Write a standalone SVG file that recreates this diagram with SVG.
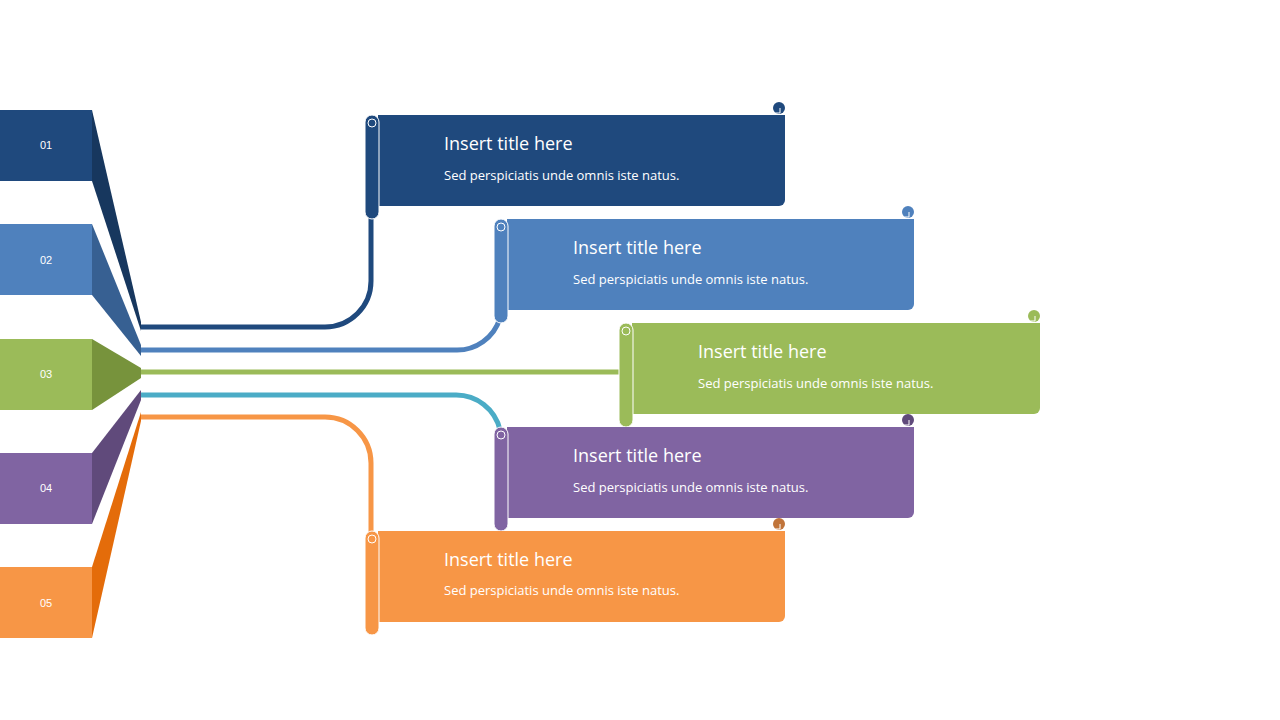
<svg xmlns="http://www.w3.org/2000/svg" width="1280" height="720" viewBox="0 0 1280 720">
<style>
.n{font-family:"Liberation Sans",Arial,sans-serif;font-size:11px;fill:#fff;text-anchor:middle}
.t{font-family:"Open Sans","Liberation Sans",sans-serif;font-size:18px;fill:#fff}
.s{font-family:"Open Sans","Liberation Sans",sans-serif;font-size:13px;fill:#fff}
.c{fill:none;stroke-width:5}
.e{stroke:#fff;stroke-width:1;fill:none}
</style>
<rect width="1280" height="720" fill="#fff"/>
<g id="tabs">
<g id="tab1"><rect x="0" y="110" width="92" height="71" fill="#1F497D"/><polygon points="92,110 141,322 141,331 92,181" fill="#17375E"/><text class="n" x="46" y="149">01</text></g>
<g id="tab2"><rect x="0" y="224" width="92" height="71" fill="#4F81BD"/><polygon points="92,224 141,345 141,356 92,295" fill="#376092"/><text class="n" x="46" y="264">02</text></g>
<g id="tab3"><rect x="0" y="339" width="92" height="71" fill="#9BBB59"/><polygon points="92,339 141,368 141,378 92,410" fill="#77933C"/><text class="n" x="46" y="378">03</text></g>
<g id="tab4"><rect x="0" y="453" width="92" height="71" fill="#8064A2"/><polygon points="92,524 141,400 141,390 92,453" fill="#604A7B"/><text class="n" x="46" y="492">04</text></g>
<g id="tab5"><rect x="0" y="567" width="92" height="71" fill="#F79646"/><polygon points="92,638 141,421 141,412 92,567" fill="#E46C0A"/><text class="n" x="46" y="607">05</text></g>
</g>
<g id="connectors">
<path class="c" stroke="#1F497D" d="M141,327 H325 A46,46 0 0 0 371,281 V212"/>
<path class="c" stroke="#4F81BD" d="M141,350 H455 A45,45 0 0 0 500,318"/>
<path class="c" stroke="#9BBB59" d="M141,372 H622"/>
<path class="c" stroke="#4BACC6" d="M141,395 H455 A45,45 0 0 1 500,430"/>
<path class="c" stroke="#F79646" d="M141,417 H325 A46,46 0 0 1 371,463 V540"/>
</g>
<g id="banner1">
<circle cx="779" cy="108" r="6" fill="#1F497D"/>
<path d="M378,115 H785 V200 a6,6 0 0 1 -6,6 H378 Z" fill="#1F497D"/>
<rect x="365" y="115" width="14" height="104" rx="7" fill="#1F497D" stroke="#fff" stroke-width="1"/>
<circle class="e" cx="372" cy="123" r="4"/><path class="e" d="M773,113 h7 v-5"/>
<text class="t" x="444" y="150">Insert title here</text><text class="s" x="444" y="180">Sed perspiciatis unde omnis iste natus.</text>
</g>
<g id="banner2">
<circle cx="908" cy="212" r="6" fill="#4F81BD"/>
<path d="M507,219 H914 V304 a6,6 0 0 1 -6,6 H507 Z" fill="#4F81BD"/>
<rect x="494" y="219" width="14" height="104" rx="7" fill="#4F81BD" stroke="#fff" stroke-width="1"/>
<circle class="e" cx="501" cy="227" r="4"/><path class="e" d="M902,217 h7 v-5"/>
<text class="t" x="573" y="254">Insert title here</text><text class="s" x="573" y="284">Sed perspiciatis unde omnis iste natus.</text>
</g>
<g id="banner3">
<circle cx="1034" cy="316" r="6" fill="#9BBB59"/>
<path d="M632,323 H1040 V408 a6,6 0 0 1 -6,6 H632 Z" fill="#9BBB59"/>
<rect x="619" y="323" width="14" height="104" rx="7" fill="#9BBB59" stroke="#fff" stroke-width="1"/>
<circle class="e" cx="626" cy="331" r="4"/><path class="e" d="M1028,321 h7 v-5"/>
<text class="t" x="698" y="358">Insert title here</text><text class="s" x="698" y="388">Sed perspiciatis unde omnis iste natus.</text>
</g>
<g id="banner4">
<circle cx="908" cy="420" r="6" fill="#604A7B"/>
<path d="M507,427 H914 V512 a6,6 0 0 1 -6,6 H507 Z" fill="#8064A2"/>
<rect x="494" y="427" width="14" height="104" rx="7" fill="#8064A2" stroke="#fff" stroke-width="1"/>
<circle class="e" cx="501" cy="435" r="4"/><path class="e" d="M902,425 h7 v-5"/>
<text class="t" x="573" y="462">Insert title here</text><text class="s" x="573" y="492">Sed perspiciatis unde omnis iste natus.</text>
</g>
<g id="banner5">
<circle cx="779" cy="524" r="6" fill="#C0743A"/>
<path d="M378,531 H785 V616 a6,6 0 0 1 -6,6 H378 Z" fill="#F79646"/>
<rect x="365" y="531" width="14" height="104" rx="7" fill="#F79646" stroke="#fff" stroke-width="1"/>
<circle class="e" cx="372" cy="539" r="4"/><path class="e" d="M773,529 h7 v-5"/>
<text class="t" x="444" y="566">Insert title here</text><text class="s" x="444" y="595">Sed perspiciatis unde omnis iste natus.</text>
</g>
</svg>
